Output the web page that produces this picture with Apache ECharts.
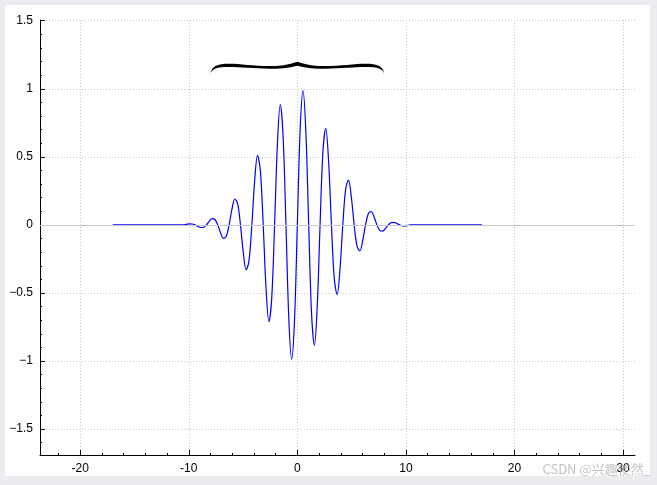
<!DOCTYPE html>
<html><head><meta charset="utf-8">
<script src="https://cdn.jsdelivr.net/npm/echarts@6/dist/echarts.min.js"></script>
<style>html,body{margin:0;padding:0;background:#ebebf0;} #c{width:657px;height:485px;}</style>
</head><body><div id="c"></div>
<script>
// wave packet samples
const xs = [-17, -14.5, -12,
  -10.472, -10.210, -9.948, -9.687, -9.425, -9.163, -8.901, -8.639, -8.378, -8.116,
  -7.854, -7.592, -7.330, -7.069, -6.807, -6.545, -6.283, -6.021, -5.760, -5.498,
  -5.236, -4.974, -4.712, -4.451, -4.189, -3.927, -3.665, -3.403, -3.142, -2.880,
  -2.618, -2.356, -2.094, -1.833, -1.571, -1.309, -1.047, -0.785, -0.524, -0.262,
  0,
  0.262, 0.524, 0.785, 1.047, 1.309, 1.571, 1.833, 2.094, 2.356, 2.618,
  2.880, 3.142, 3.403, 3.665, 3.927, 4.189, 4.451, 4.712, 4.974, 5.236,
  5.498, 5.760, 6.021, 6.283, 6.545, 6.807, 7.069, 7.330, 7.592, 7.854,
  8.116, 8.378, 8.639, 8.901, 9.163, 9.425, 9.687, 9.948, 10.210, 10.472,
  12, 14.5, 17];
const ys = [0, 0, 0,
  0, 0.0039, 0.0071, 0.0065, 0, -0.0106, -0.0190, -0.0169, 0, 0.0263,
  0.0458, 0.0396, 0, -0.0581, -0.0986, -0.0830, 0, 0.1154, 0.1904, 0.1560,
  0, -0.2052, -0.3295, -0.2626, 0, 0.3271, 0.5108, 0.3962, 0, -0.4671,
  -0.7099, -0.5357, 0, 0.5978, 0.8839, 0.6490, 0, -0.6856, -0.9864, -0.7047,
  0,
  0.7047, 0.9864, 0.6856, 0, -0.6490, -0.8839, -0.5978, 0, 0.5357, 0.7099,
  0.4671, 0, -0.3962, -0.5108, -0.3271, 0, 0.2626, 0.3295, 0.2052, 0,
  -0.1560, -0.1904, -0.1154, 0, 0.0830, 0.0986, 0.0581, 0, -0.0396, -0.0458,
  -0.0263, 0, 0.0169, 0.0190, 0.0106, 0, -0.0065, -0.0071, -0.0039, 0,
  0, 0, 0];
const xTickValues = [-20, -10, 0, 10, 20, 30];
const yTickValues = [-1.5, -1, -0.5, 0, 0.5, 1, 1.5];
const xRange = [-23.7, 31.1];
const yRange = [-1.69, 1.505];
const bracketLeft = [-8, 1.1];
const bracketRight = [8, 1.1];
const watermark = 'CSDN @兴趣使然_';

// minor ticks (5 sub-intervals per major)
const xMinor = [], yMinor = [];
for (let i = -12; i <= 16; i++) { const v = i * 2; if (v % 10 !== 0 && v >= xRange[0] && v <= xRange[1]) xMinor.push(v); }
for (let i = -16; i <= 15; i++) { if (i % 5 !== 0) yMinor.push(Math.round(i) / 10); }

const FONT = 'Liberation Sans';
const gridColor = 'rgb(200,200,200)';

const chart = echarts.init(document.getElementById('c'), null, {renderer: 'canvas'});
chart.setOption({
  animation: false,
  backgroundColor: '#ebebf0',
  graphic: [
    {type: 'rect', z: -100, shape: {x: 5, y: 5, width: 645, height: 471}, style: {fill: '#ffffff'}, silent: true},
    {type: 'text', z: 100, right: 6, bottom: 9, style: {text: watermark, fill: 'rgba(175,175,175,0.75)', font: '13px "Noto Sans CJK SC"'}, silent: true}
  ],
  grid: {left: 40, right: 22, top: 20, bottom: 30},
  xAxis: [
    {type: 'value', position: 'bottom', min: xRange[0], max: xRange[1],
      axisLine: {onZero: false, lineStyle: {color: '#000', width: 1}},
      axisTick: {inside: true, length: 5, customValues: xTickValues, lineStyle: {color: '#000'}},
      axisLabel: {customValues: xTickValues, margin: 8, color: '#000', fontSize: 12, fontFamily: FONT},
      splitLine: {show: true, lineStyle: {color: gridColor, type: [1, 2], width: 1}}},
    {type: 'value', position: 'bottom', min: xRange[0], max: xRange[1],
      axisLine: {show: false, onZero: false},
      axisTick: {inside: true, length: 2, customValues: xMinor, lineStyle: {color: '#000'}},
      axisLabel: {show: false}, splitLine: {show: false}}
  ],
  yAxis: [
    {type: 'value', position: 'left', min: yRange[0], max: yRange[1],
      axisLine: {show: true, onZero: false, lineStyle: {color: '#000', width: 1}},
      axisTick: {show: true, inside: true, length: 5, customValues: yTickValues, lineStyle: {color: '#000'}},
      axisLabel: {customValues: yTickValues, margin: 7, color: '#000', fontSize: 12, fontFamily: FONT,
        formatter: v => (v < 0 ? '\u2212' + String(Math.abs(v)) : String(v))},
      splitLine: {show: true, lineStyle: {color: gridColor, type: [1, 2], width: 1}}},
    {type: 'value', position: 'left', min: yRange[0], max: yRange[1],
      axisLine: {show: false, onZero: false},
      axisTick: {show: true, inside: true, length: 2, customValues: yMinor, lineStyle: {color: '#000'}},
      axisLabel: {show: false}, splitLine: {show: false}}
  ],
  series: [
    {type: 'line', xAxisIndex: 0, yAxisIndex: 0, data: xs.map((x, i) => [x, ys[i]]),
      showSymbol: false, smooth: 0.35, z: 3,
      lineStyle: {color: '#0000ff', width: 1.2}, itemStyle: {color: '#0000ff'},
      markLine: {silent: true, symbol: 'none', label: {show: false},
        lineStyle: {color: gridColor, type: 'solid', width: 1},
        data: [{yAxis: 0}]}},
    {type: 'custom', xAxisIndex: 0, yAxisIndex: 0, clip: false, z: 4,
      data: [[bracketLeft[0], bracketLeft[1], bracketRight[0], bracketRight[1]]],
      encode: {x: [0, 2], y: [1, 3]},
      renderItem: function (params, api) {
        const l = api.coord([api.value(0), api.value(1)]);
        const r = api.coord([api.value(2), api.value(3)]);
        const mx = (l[0] + r[0]) / 2, B = (l[1] + r[1]) / 2, W = (r[0] - l[0]) / 2;
        const L1 = 13.5, L2 = 9.5;
        const p = (x, y) => x.toFixed(2) + ' ' + y.toFixed(2);
        const d = 'M ' + p(mx + W, B) +
          ' C ' + p(mx + W, B - 1.8 * L1) + ' ' + p(mx + 0.4 * W, B) + ' ' + p(mx, B - L1) +
          ' C ' + p(mx - 0.4 * W, B) + ' ' + p(mx - W, B - 1.8 * L1) + ' ' + p(mx - W, B) +
          ' C ' + p(mx - W, B - 1.8 * L2) + ' ' + p(mx - 0.4 * W, B) + ' ' + p(mx, B - L2) +
          ' C ' + p(mx + 0.4 * W, B) + ' ' + p(mx + W, B - 1.8 * L2) + ' ' + p(mx + W, B) + ' Z';
        return {type: 'path', shape: {pathData: d}, style: {fill: '#000', stroke: null}};
      }}
  ]
});
</script></body></html>
